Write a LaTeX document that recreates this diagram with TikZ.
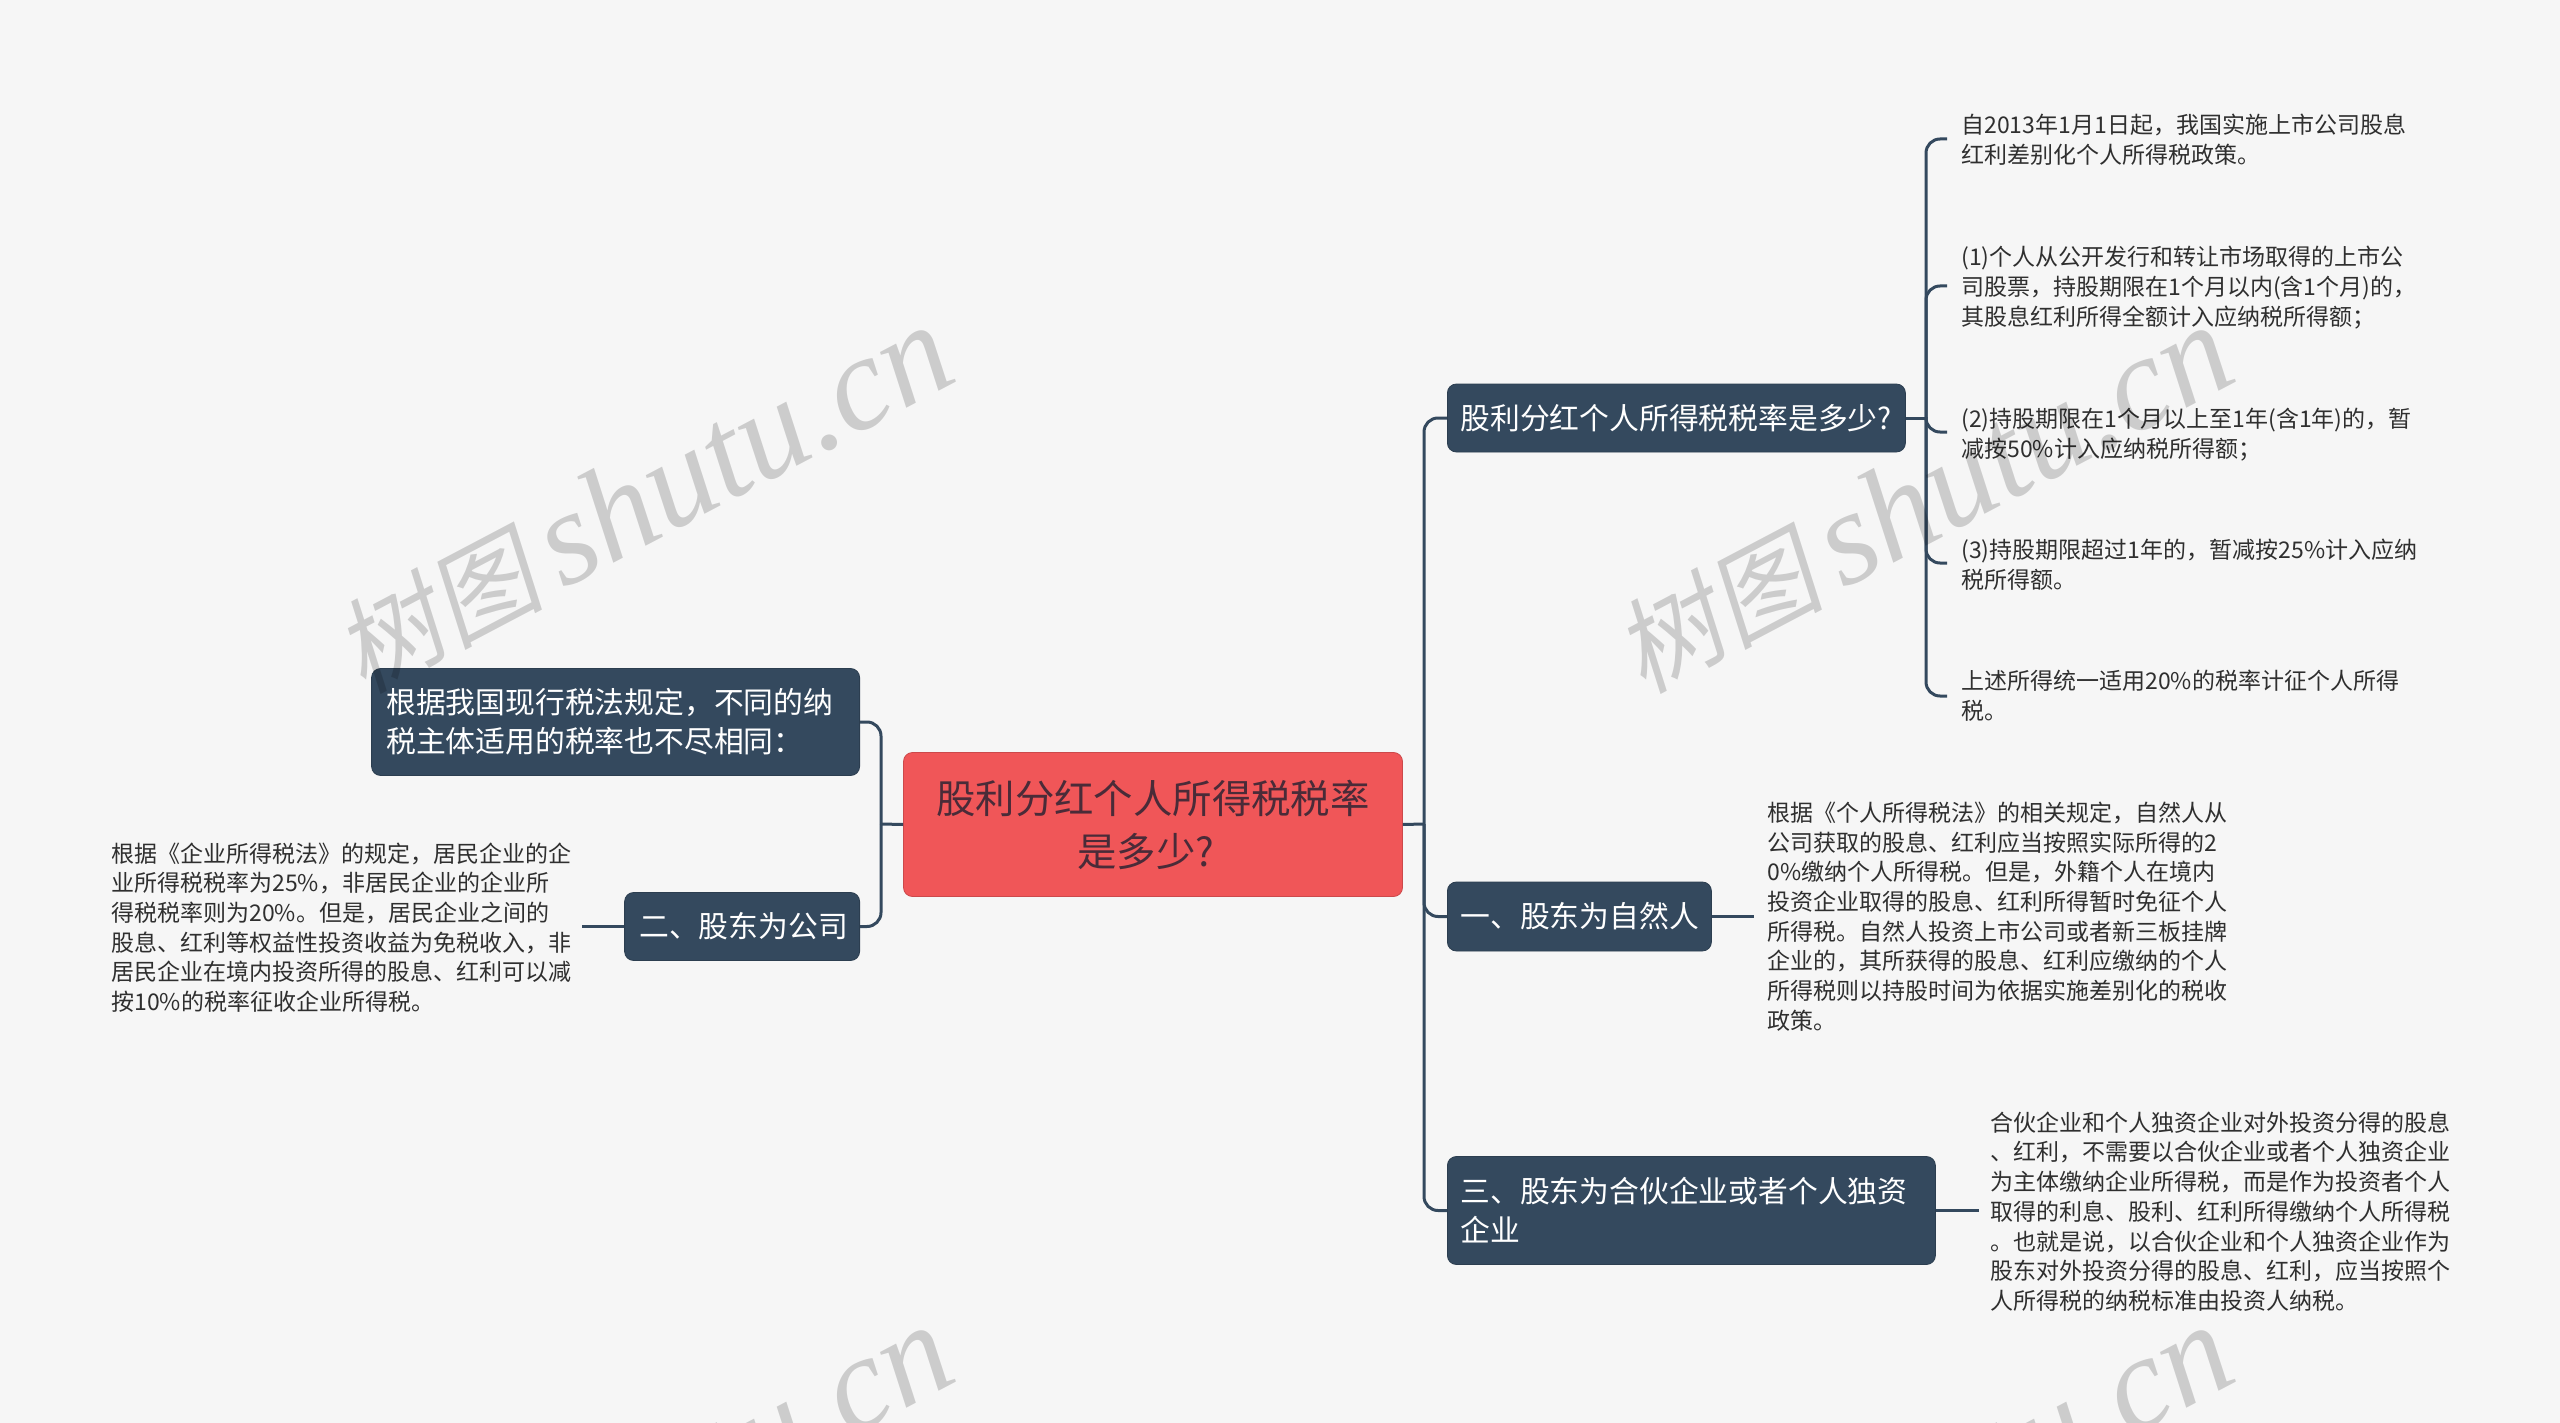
\documentclass[tikz,border=0pt]{standalone}
\usepackage{fontspec}
\setmainfont{Noto Sans CJK SC}
\newfontfamily\wmcjk[FakeSlant=0.18]{Noto Sans CJK SC}
\newfontfamily\wmlat{Liberation Serif}
\definecolor{bgc}{HTML}{F6F6F6}
\definecolor{navy}{HTML}{34495E}
\definecolor{rootc}{HTML}{F05658}
\definecolor{roottxt}{HTML}{4A2B38}
\definecolor{leaftxt}{HTML}{2F2F2F}
\tikzset{
  x=0.5pt,y=-0.5pt,
  link/.style={draw=navy,line width=1.5pt},
  corner/.style={link,rounded corners=7pt},
  rootbox/.style={fill=rootc,draw=rootc!85!black,line width=0.4pt,rounded corners=4.5pt,text=roottxt,align=center,inner sep=0pt,
     font=\fontsize{19.7}{26.5}\selectfont},
  topicbox/.style={fill=navy,draw=navy!85!black,line width=0.4pt,rounded corners=4.5pt,text=white,align=left,inner xsep=6.5pt,inner ysep=0pt,anchor=west,
     font=\fontsize{14.9}{19.5}\selectfont},
  leaf/.style={text=leaftxt,align=left,inner xsep=7pt,inner ysep=0pt,anchor=west,
     font=\fontsize{11.5}{14.85}\selectfont},
  wmark/.style={rotate=27.8,anchor=base west,text=black,text opacity=0.17,inner sep=0pt}
}
\newcommand{\wmtext}{{\fontsize{52}{60}\selectfont\wmcjk 树图}\hspace{9pt}{\fontsize{67}{60}\selectfont\wmlat\itshape shutu.cn}}
\begin{document}
\begin{tikzpicture}
\useasboundingbox (0,0) rectangle (2560,1423);
\fill[bgc] (0,0) rectangle (2560,1423);

% branch points
\coordinate (sr) at (1424,824);
\coordinate (sl) at (881,824);
\coordinate (s1) at (1926,417);

% nodes
\node[rootbox,minimum width=249.5pt,minimum height=72pt] (root) at (1153,824.5) {股利分红个人所得税税率\\是多少?\hspace*{7pt}};

\node[topicbox,text width=216pt,minimum height=34pt] (a) at (1447,418) {股利分红个人所得税税率是多少?};
\node[topicbox,text width=119pt,minimum height=34.5pt] (b) at (1447,916.5) {一、股东为自然人};
\node[topicbox,text width=231pt,minimum height=54pt] (c) at (1447,1210.5) {三、股东为合伙企业或者个人独资\\企业};
\node[topicbox,anchor=east,inner xsep=7.3pt,text width=229.4pt,minimum height=53.5pt] (d) at (860,722) {根据我国现行税法规定，不同的纳\\税主体适用的税率也不尽相同：};
\node[topicbox,anchor=east,inner xsep=7.3pt,text width=102.9pt,minimum height=34pt] (e) at (860,926.5) {二、股东为公司};

\node[leaf] (a1) at (1947,140) {自2013年1月1日起，我国实施上市公司股息\\红利差别化个人所得税政策。};
\node[leaf] (a2) at (1947,287.5) {(1)个人从公开发行和转让市场取得的上市公\\司股票，持股期限在1个月以内(含1个月)的，\\其股息红利所得全额计入应纳税所得额；};
\node[leaf] (a3) at (1947,434.5) {(2)持股期限在1个月以上至1年(含1年)的，暂\\减按50\%计入应纳税所得额；};
\node[leaf] (a4) at (1947,564.5) {(3)持股期限超过1年的，暂减按25\%计入应纳\\税所得额。};
\node[leaf] (a5) at (1947,696) {上述所得统一适用20\%的税率计征个人所得\\税。};

\node[leaf,inner xsep=6.5pt] (b1) at (1754,916.5) {根据《个人所得税法》的相关规定，自然人从\\公司获取的股息、红利应当按照实际所得的2\\0\%缴纳个人所得税。但是，外籍个人在境内\\投资企业取得的股息、红利所得暂时免征个人\\所得税。自然人投资上市公司或者新三板挂牌\\企业的，其所获得的股息、红利应缴纳的个人\\所得税则以持股时间为依据实施差别化的税收\\政策。};
\node[leaf,inner xsep=5.5pt] (c1) at (1979,1211.5) {合伙企业和个人独资企业对外投资分得的股息\\、红利，不需要以合伙企业或者个人独资企业\\为主体缴纳企业所得税，而是作为投资者个人\\取得的利息、股利、红利所得缴纳个人所得税\\。也就是说，以合伙企业和个人独资企业作为\\股东对外投资分得的股息、红利，应当按照个\\人所得税的纳税标准由投资人纳税。};
\node[leaf,inner xsep=0pt] (e1) at (111,927.5) {根据《企业所得税法》的规定，居民企业的企\\业所得税税率为25\%，非居民企业的企业所\\得税税率则为20\%。但是，居民企业之间的\\股息、红利等权益性投资收益为免税收入，非\\居民企业在境内投资所得的股息、红利可以减\\按10\%的税率征收企业所得税。};

\coordinate (e1end) at (582,926.5);

% connectors: root to topics
\draw[link] (root.east) -- (sr);
\draw[link] (root.west) -- (sl);
\draw[corner] (a.west) -| (sr);
\draw[corner] (b.west) -| (sr);
\draw[corner] (c.west) -| (sr);
\draw[corner] (d.east) -| (sl);
\draw[corner] (e.east) -| (sl);

% connectors: topic to leaves
\draw[link] (a.east) -- (a.east -| s1);
\draw[corner] ([yshift=0.5pt]a1.west) -| (s1);
\draw[corner] ([yshift=0.75pt]a2.west) -| (s1);
\draw[corner] ([yshift=1.25pt]a3.west) -| (s1);
\draw[corner] ([yshift=0.75pt]a4.west) -| (s1);
\draw[corner] (a5.west) -| (s1);
\draw[link] (b.east) -- (b.east -| b1.west);
\draw[link] (c.east) -- (c.east -| c1.west);
\draw[link] (e.west) -- (e1end);

% watermarks
\node[wmark] (w1) at (363,695) {\wmtext};
\node[wmark] (w2) at (1643,695) {\wmtext};
\node[wmark] (w3) at (363,1695) {\wmtext};
\node[wmark] (w4) at (1643,1695) {\wmtext};
\end{tikzpicture}
\end{document}
